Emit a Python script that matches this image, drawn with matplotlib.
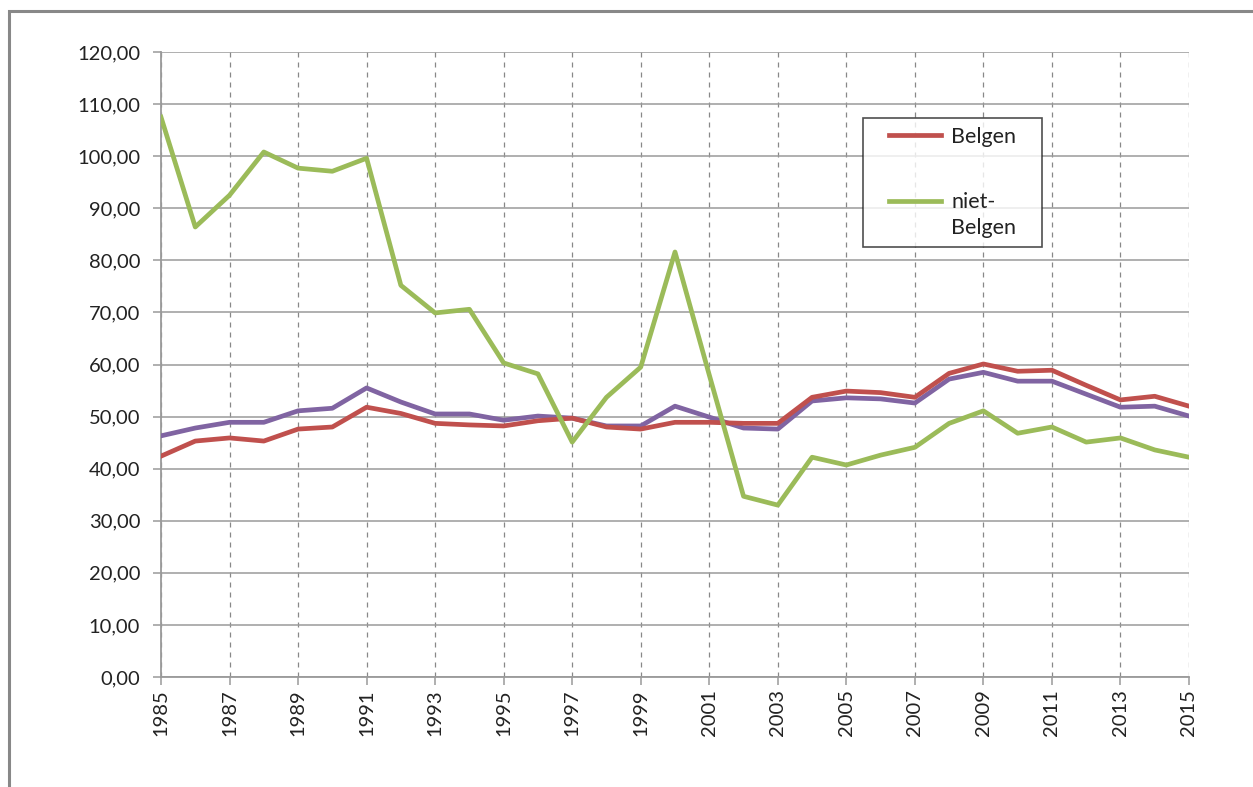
import matplotlib
matplotlib.use("Agg")
import matplotlib.pyplot as plt
from matplotlib.ticker import FuncFormatter, MultipleLocator
from matplotlib.patches import Rectangle

years = list(range(1985, 2016))
belgen = [42.4, 45.3, 45.9, 45.3, 47.6, 48.0, 51.8, 50.6, 48.7, 48.4,
          48.2, 49.2, 49.7, 48.0, 47.6, 48.9, 48.9, 48.7, 48.7, 53.7,
          54.9, 54.6, 53.7, 58.3, 60.1, 58.7, 58.9, 56.0, 53.2, 53.9, 52.0]
niet_belgen = [107.5, 86.4, 92.5, 100.8, 97.7, 97.1, 99.6, 75.2, 69.9, 70.6,
               60.3, 58.2, 45.1, 53.7, 59.5, 81.6, 58.0, 34.7, 33.0, 42.2,
               40.7, 42.6, 44.1, 48.7, 51.1, 46.8, 48.0, 45.1, 45.9, 43.6, 42.2]
totaal = [46.3, 47.8, 48.9, 48.9, 51.1, 51.6, 55.5, 52.8, 50.5, 50.5,
          49.3, 50.1, 49.7, 48.2, 48.2, 52.0, 49.9, 47.8, 47.6, 53.0,
          53.6, 53.4, 52.6, 57.2, 58.5, 56.8, 56.8, 54.3, 51.8, 52.0, 50.1]
xtick_years = list(range(1985, 2016, 2))
labels = ['Belgen', 'niet-\nBelgen']

plt.rcParams['font.family'] = ['Lato', 'DejaVu Sans']

fig = plt.figure(figsize=(12.53, 7.87), dpi=100)
ax = fig.add_axes([161/1253, 1 - 677/787, (1189 - 161)/1253, (677 - 52)/787])

lw = 3.4
ax.plot(years, totaal, color='#8064A2', lw=lw, solid_joinstyle='round', zorder=3)
l1, = ax.plot(years, belgen, color='#C0504D', lw=lw, solid_joinstyle='round', zorder=4, label=labels[0])
l2, = ax.plot(years, niet_belgen, color='#9BBB59', lw=lw, solid_joinstyle='round', zorder=5, label=labels[1])

ax.set_xlim(1985, 2015)
ax.set_ylim(0, 120)
ax.yaxis.set_major_locator(MultipleLocator(10))
ax.yaxis.set_major_formatter(FuncFormatter(lambda v, p: f"{v:.2f}".replace('.', ',')))
ax.set_xticks(xtick_years)
ax.set_xticklabels([str(y) for y in xtick_years], rotation=90)

gc = '#9a9a9a'
ax.grid(axis='y', color=gc, lw=1.1, ls='-')
ax.grid(axis='x', color='#888888', lw=0.9, ls=(0, (4, 4)))
ax.set_axisbelow(True)

for s in ['top', 'right']:
    ax.spines[s].set_visible(False)
for s in ['left', 'bottom']:
    ax.spines[s].set_color(gc)
    ax.spines[s].set_linewidth(1.3)

ax.tick_params(axis='both', colors=gc, labelcolor='#222222', labelsize=14.5, length=6, width=1.1)
ax.tick_params(axis='y', pad=9)
ax.tick_params(axis='x', pad=3)

lx0 = (863 - 161) / 1028
ly1 = (677 - 118) / 625
lw_ax = (1042 - 863) / 1028
lh_ax = (244 - 118) / 625
leg = ax.legend(handles=[l1, l2], loc='upper left',
                bbox_to_anchor=(lx0, ly1 - lh_ax, lw_ax, lh_ax), mode='expand',
                borderaxespad=0, frameon=True, fancybox=False, fontsize=15.5,
                handlelength=2.4, handletextpad=1.3, labelspacing=2.1, borderpad=0.4)
leg.get_frame().set_edgecolor('#222222')
leg.get_frame().set_linewidth(1.2)
for t in leg.get_texts():
    t.set_color('#222222')
    t.set_linespacing(1.4)
# shift handles right (left padding) and put the green handle level with the first label line
for i, h in enumerate(leg.legend_handles):
    h.set_xdata([x + 12.5 for x in h.get_xdata()])
h2 = leg.legend_handles[1]
h2.set_ydata([y + 10.5 for y in h2.get_ydata()])

# outer chart border (extends past the right and bottom edges as in the reference)
fig.patches.append(Rectangle((9/1253, -0.05), 1.2, 1 - 11/787 + 0.05,
                             transform=fig.transFigure, fill=False, edgecolor='#888888', lw=2.2))

fig.savefig('out.png', dpi=100)
